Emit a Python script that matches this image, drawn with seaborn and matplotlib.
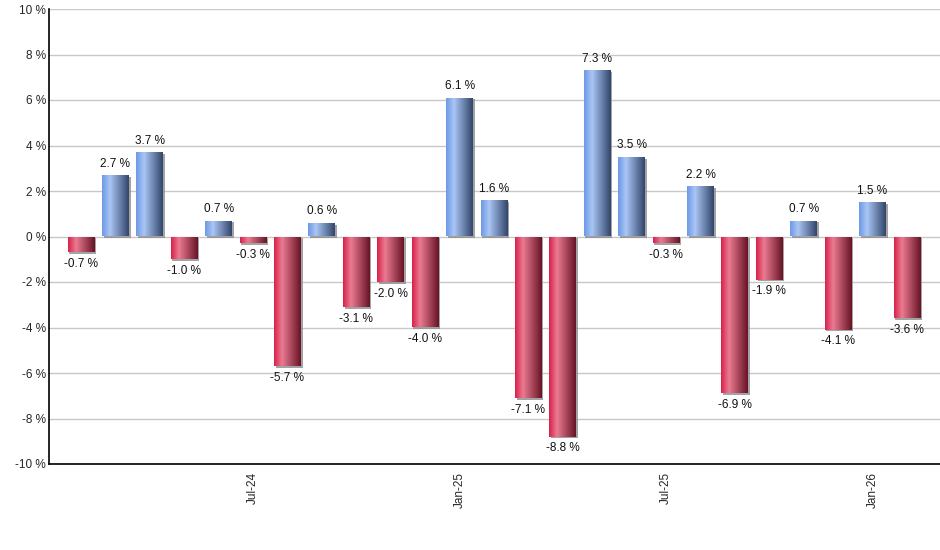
import numpy as np
import matplotlib
matplotlib.use("Agg")
import matplotlib.pyplot as plt
import matplotlib.patheffects as pe
from matplotlib.colors import LinearSegmentedColormap
import pandas as pd
import seaborn as sns

# monthly returns Feb-24 .. Feb-26
months = ["Feb-24", "Mar-24", "Apr-24", "May-24", "Jun-24", "Jul-24", "Aug-24",
          "Sep-24", "Oct-24", "Nov-24", "Dec-24", "Jan-25", "Feb-25", "Mar-25",
          "Apr-25", "May-25", "Jun-25", "Jul-25", "Aug-25", "Sep-25", "Oct-25",
          "Nov-25", "Dec-25", "Jan-26", "Feb-26"]
returns = [-0.7, 2.7, 3.7, -1.0, 0.7, -0.3, -5.7, 0.6, -3.1, -2.0, -4.0, 6.1,
           1.6, -7.1, -8.8, 7.3, 3.5, -0.3, 2.2, -6.9, -1.9, 0.7, -4.1, 1.5, -3.6]
shown_ticks = ["Jul-24", "Jan-25", "Jul-25", "Jan-26"]
y_ticks = [-10, -8, -6, -4, -2, 0, 2, 4, 6, 8, 10]

df = pd.DataFrame({"month": months, "ret": returns})

sns.set_style("white")
plt.rcParams["font.family"] = ["Liberation Sans", "DejaVu Sans"]

blue_cm = LinearSegmentedColormap.from_list(
    "b", [(0, "#6c98e6"), (0.3, "#aac6f5"), (1.0, "#31456a")])
red_cm = LinearSegmentedColormap.from_list(
    "r", [(0, "#d8204a"), (0.3, "#ea7b91"), (1.0, "#681326")])

fig = plt.figure(figsize=(9.4, 5.5), dpi=100)
ax = fig.add_axes([49 / 940, 86 / 550, 891 / 940, 455 / 550])

sns.barplot(data=df, x="month", y="ret", order=months, color="#888888",
            width=0.78, ax=ax, zorder=2)

grad = np.linspace(0, 1, 256).reshape(1, -1)
for patch, val in zip(ax.patches, returns):
    x0, y0 = patch.get_x(), patch.get_y()
    w, h = patch.get_width(), patch.get_height()
    patch.set_facecolor("none")
    patch.set_edgecolor("none")
    patch.set_path_effects([pe.SimplePatchShadow(offset=(1.2, -1.2),
                                                 shadow_rgbFace="#8c8c8c",
                                                 alpha=0.8), pe.Normal()])
    cm = blue_cm if val >= 0 else red_cm
    im = ax.imshow(grad, cmap=cm, aspect="auto", zorder=3,
                   extent=[x0, x0 + w, min(y0, y0 + h), max(y0, y0 + h)])
    im.set_clip_path(patch)
    if val >= 0:
        ax.annotate(f"{val:.1f} %", (x0 + w / 2, val), xytext=(0, 4),
                    textcoords="offset points", ha="center", va="bottom",
                    fontsize=8.5, color="#111111", zorder=4)
    else:
        ax.annotate(f"{val:.1f} %", (x0 + w / 2, val), xytext=(0, -4),
                    textcoords="offset points", ha="center", va="top",
                    fontsize=8.5, color="#111111", zorder=4)

ax.set_xlim(-0.93, 24.96)
ax.set_ylim(-10, 10)
ax.set_yticks(y_ticks)
ax.set_yticklabels([f"{t} %" for t in y_ticks], fontsize=8.5)
ax.set_xticks([months.index(m) for m in shown_ticks])
ax.set_xticklabels(shown_ticks, rotation=90, fontsize=8.5)
ax.tick_params(axis="x", length=4, width=1, color="black", direction="out", pad=2)
ax.tick_params(axis="y", length=0, pad=2)
ax.yaxis.grid(True, color="#c8c8c8", lw=1, zorder=0)
ax.set_axisbelow(True)
ax.set_xlabel("")
ax.set_ylabel("")
for s in ["top", "right"]:
    ax.spines[s].set_visible(False)
for s in ["left", "bottom"]:
    ax.spines[s].set_color("black")
    ax.spines[s].set_linewidth(1.2)

fig.savefig("out.png", dpi=100)
